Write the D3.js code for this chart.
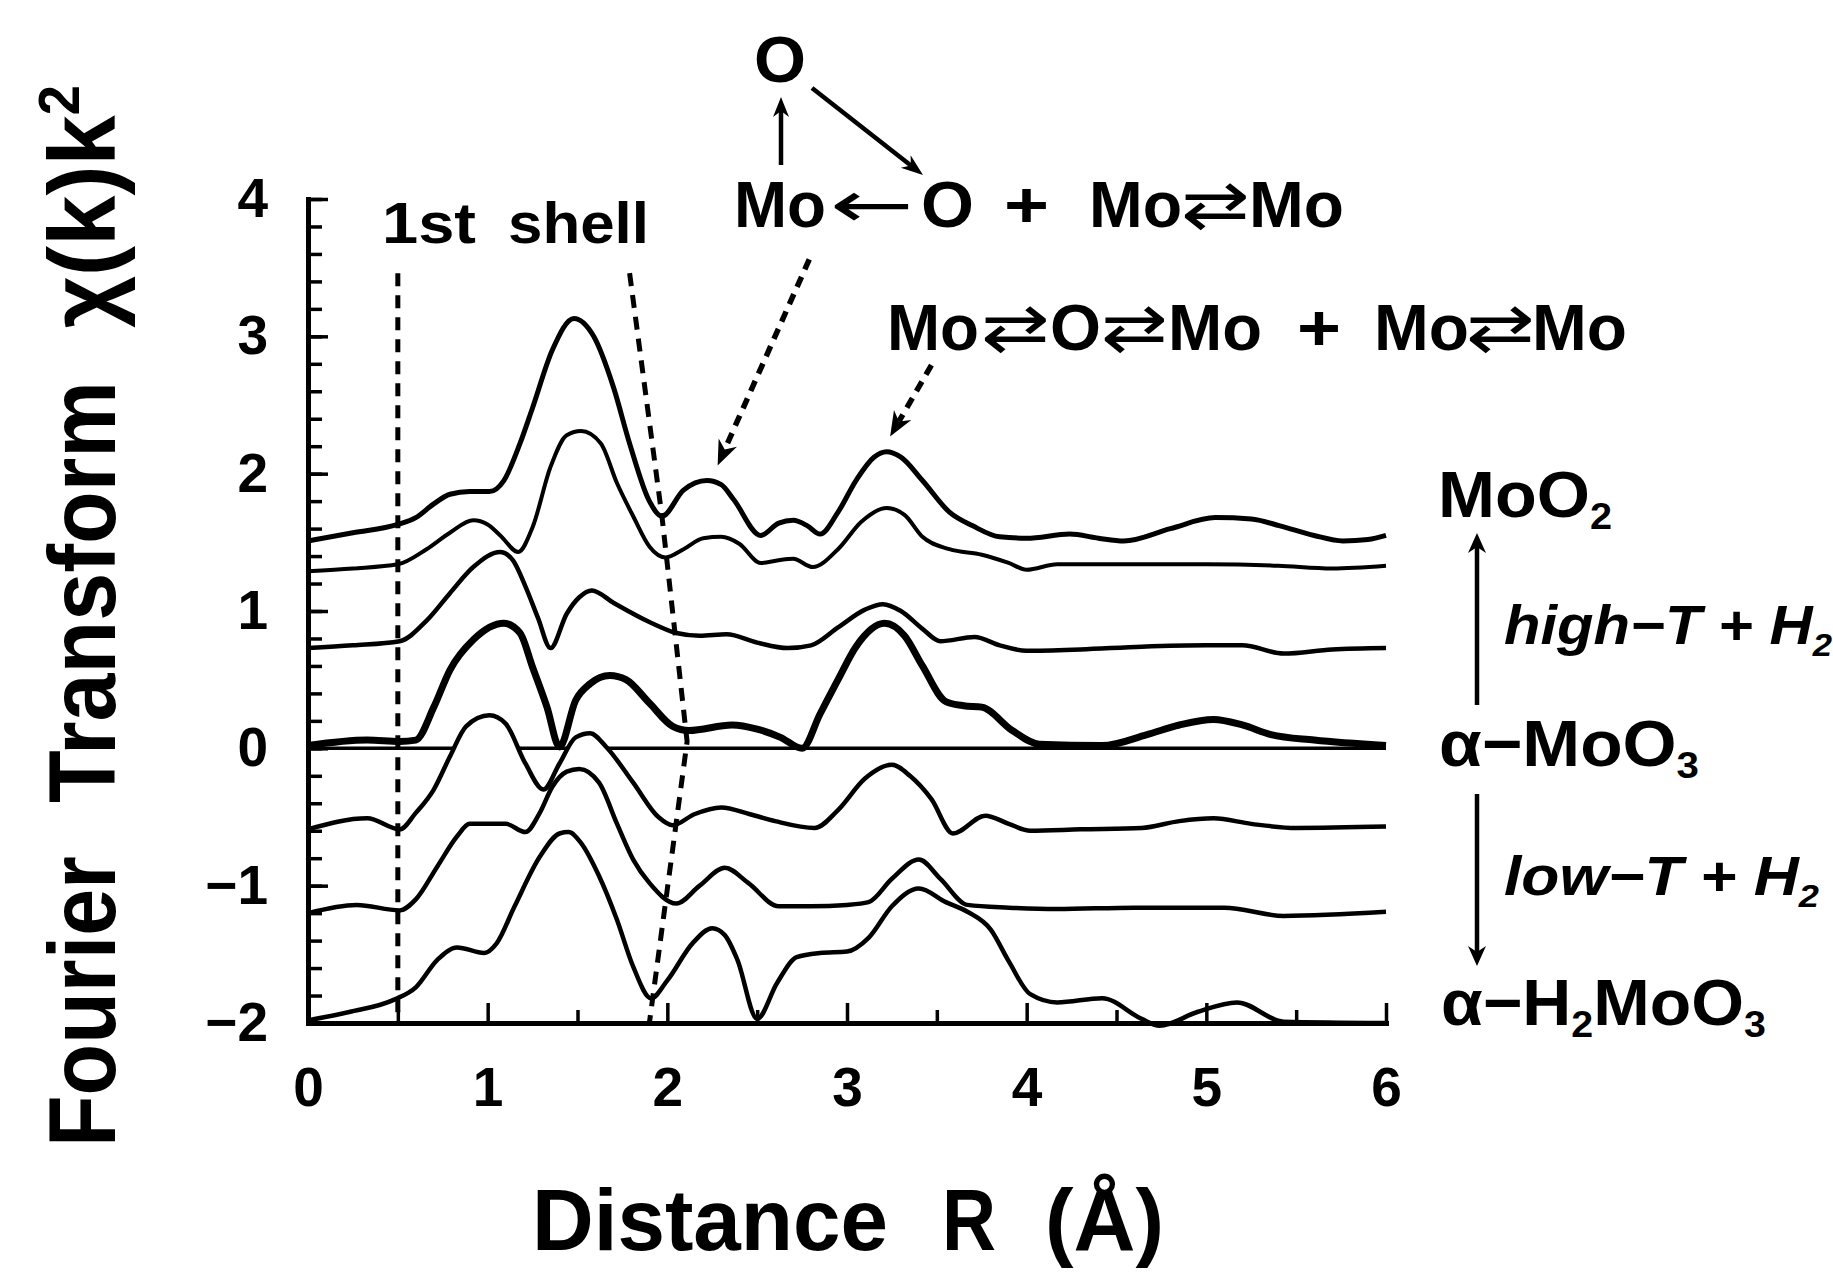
<!DOCTYPE html>
<html>
<head>
<meta charset="utf-8">
<script src="https://cdn.jsdelivr.net/npm/d3@7"></script>
<style>
  body { margin: 0; background: #fff; }
  svg { display: block; }
  text { font-family: "Liberation Sans", Arial, sans-serif; font-weight: bold; fill: #000; }
</style>
</head>
<body>
<svg id="chart"></svg>
<script>
// Fourier transform curves, [R (Å), FT] pairs, top to bottom
const ftMoO2 = [[0,1.51],[0.25,1.57],[0.5,1.63],[0.6,1.68],[0.7,1.78],[0.79,1.85],[0.9,1.87],[1.01,1.87],[1.09,1.95],[1.18,2.22],[1.25,2.48],[1.36,2.9],[1.48,3.13],[1.59,3.0],[1.7,2.63],[1.79,2.22],[1.9,1.8],[1.97,1.69],[2.09,1.88],[2.22,1.95],[2.3,1.92],[2.37,1.81],[2.52,1.55],[2.62,1.64],[2.7,1.66],[2.78,1.62],[2.85,1.56],[2.95,1.72],[3.05,1.95],[3.15,2.12],[3.22,2.16],[3.3,2.12],[3.42,1.95],[3.57,1.72],[3.7,1.62],[3.85,1.54],[4.0,1.53],[4.24,1.56],[4.4,1.53],[4.54,1.51],[4.8,1.6],[5.05,1.68],[5.25,1.67],[5.41,1.62],[5.6,1.55],[5.76,1.51],[5.9,1.52],[6.0,1.55]];
const ftHighT2 = [[0,1.29],[0.25,1.31],[0.5,1.34],[0.66,1.45],[0.79,1.57],[0.92,1.66],[1.0,1.63],[1.07,1.55],[1.17,1.43],[1.25,1.61],[1.35,2.05],[1.44,2.28],[1.52,2.31],[1.63,2.22],[1.72,1.93],[1.81,1.69],[1.9,1.47],[1.99,1.39],[2.09,1.45],[2.2,1.53],[2.3,1.54],[2.4,1.49],[2.52,1.35],[2.62,1.37],[2.7,1.38],[2.81,1.32],[2.95,1.45],[3.08,1.65],[3.22,1.75],[3.32,1.7],[3.42,1.54],[3.57,1.45],[3.75,1.41],[3.9,1.35],[4.0,1.3],[4.17,1.34],[4.5,1.34],[5.0,1.34],[5.4,1.33],[5.7,1.31],[6.0,1.33]];
const ftHighT1 = [[0,0.73],[0.25,0.75],[0.51,0.78],[0.66,0.93],[0.79,1.13],[0.92,1.32],[1.07,1.43],[1.14,1.37],[1.21,1.18],[1.28,0.95],[1.35,0.73],[1.44,0.98],[1.51,1.1],[1.58,1.15],[1.7,1.06],[1.9,0.92],[2.05,0.84],[2.18,0.82],[2.33,0.83],[2.5,0.77],[2.67,0.73],[2.8,0.75],[2.95,0.88],[3.1,1.01],[3.2,1.05],[3.3,1.0],[3.42,0.87],[3.52,0.78],[3.71,0.81],[3.85,0.75],[4.0,0.71],[4.3,0.72],[4.64,0.74],[5.0,0.75],[5.2,0.75],[5.43,0.69],[5.7,0.72],[6.0,0.73]];
const ftMoO3 = [[0,0.02],[0.33,0.06],[0.51,0.05],[0.6,0.06],[0.7,0.3],[0.79,0.57],[0.92,0.79],[1.09,0.91],[1.18,0.84],[1.25,0.59],[1.33,0.3],[1.4,0.01],[1.49,0.35],[1.57,0.47],[1.68,0.53],[1.77,0.5],[1.9,0.33],[2.03,0.16],[2.12,0.13],[2.36,0.17],[2.5,0.14],[2.63,0.08],[2.75,0.0],[2.85,0.25],[2.95,0.5],[3.05,0.74],[3.21,0.91],[3.32,0.82],[3.42,0.6],[3.55,0.34],[3.65,0.31],[3.75,0.3],[3.92,0.13],[4.07,0.03],[4.42,0.02],[4.67,0.1],[4.85,0.17],[5.04,0.21],[5.2,0.17],[5.36,0.1],[5.6,0.06],[6.0,0.02]];
const ftLowT1 = [[0,-0.59],[0.33,-0.51],[0.51,-0.59],[0.6,-0.47],[0.7,-0.3],[0.79,-0.06],[0.88,0.16],[1.01,0.24],[1.1,0.18],[1.21,-0.11],[1.31,-0.3],[1.4,-0.11],[1.49,0.08],[1.57,0.11],[1.66,0.01],[1.81,-0.25],[1.95,-0.5],[2.03,-0.56],[2.15,-0.48],[2.3,-0.43],[2.46,-0.48],[2.6,-0.53],[2.82,-0.58],[2.95,-0.45],[3.1,-0.22],[3.25,-0.12],[3.35,-0.2],[3.47,-0.37],[3.59,-0.62],[3.77,-0.49],[3.9,-0.55],[4.02,-0.6],[4.3,-0.59],[4.64,-0.58],[4.85,-0.53],[5.04,-0.51],[5.25,-0.55],[5.5,-0.58],[6.0,-0.57]];
const ftLowT2 = [[0,-1.2],[0.27,-1.14],[0.51,-1.18],[0.6,-1.1],[0.72,-0.86],[0.83,-0.64],[0.9,-0.55],[1.1,-0.55],[1.21,-0.61],[1.29,-0.47],[1.36,-0.28],[1.44,-0.17],[1.51,-0.15],[1.62,-0.25],[1.72,-0.55],[1.81,-0.81],[1.9,-0.98],[2.05,-1.13],[2.18,-1.0],[2.32,-0.87],[2.45,-0.98],[2.62,-1.15],[2.8,-1.15],[3.0,-1.14],[3.12,-1.12],[3.25,-0.95],[3.4,-0.81],[3.52,-0.95],[3.67,-1.14],[3.9,-1.16],[4.17,-1.17],[4.6,-1.16],[5.1,-1.16],[5.43,-1.22],[6.0,-1.19]];
const ftH2MoO3 = [[0,-1.98],[0.23,-1.92],[0.48,-1.83],[0.6,-1.74],[0.72,-1.54],[0.83,-1.45],[0.98,-1.49],[1.05,-1.42],[1.15,-1.15],[1.29,-0.79],[1.4,-0.62],[1.45,-0.61],[1.52,-0.69],[1.62,-0.93],[1.72,-1.25],[1.81,-1.59],[1.91,-1.82],[2.0,-1.69],[2.14,-1.42],[2.25,-1.31],[2.32,-1.36],[2.39,-1.54],[2.5,-1.97],[2.61,-1.71],[2.72,-1.52],[2.85,-1.49],[3.0,-1.48],[3.12,-1.38],[3.25,-1.15],[3.4,-1.02],[3.55,-1.12],[3.67,-1.19],[3.8,-1.32],[3.9,-1.55],[4.02,-1.79],[4.17,-1.85],[4.42,-1.82],[4.64,-1.97],[4.74,-2.02],[4.95,-1.92],[5.17,-1.85],[5.43,-1.99],[6.0,-2.0]];

// shell guides and peak pointers, in data units
const shellStart = [[0.5, 3.46], [0.5, -2.0]];
const shellEnd = [[1.79, 3.46], [1.97, 1.69], [2.11, 0.05], [1.9, -2.0]];
const pointerMoO = [[2.79, 3.56], [2.28, 2.06]];
const pointerMoOMo = [[3.47, 2.79], [3.24, 2.27]];

const xTicks = [0, 1, 2, 3, 4, 5, 6];
const yTicks = [-2, -1, 0, 1, 2, 3, 4];

const W = 1833, H = 1272;
const x = d3.scaleLinear().domain([0, 6]).range([308, 1386]);
const y = d3.scaleLinear().domain([-2, 4]).range([1023, 199]);

const svg = d3.select("#chart").attr("width", W).attr("height", H);
svg.append("rect").attr("width", W).attr("height", H).attr("fill", "#fff");

const line = d3.line().x(d => x(d[0])).y(d => y(d[1])).curve(d3.curveMonotoneX);

// zero line, hidden where the first low-T curve rises above it
svg.append("clipPath").attr("id", "above-lowT1")
  .append("path")
  .attr("d", d3.area().x(d => x(d[0])).y0(0).y1(d => y(d[1])).curve(d3.curveMonotoneX)(ftLowT1));
svg.append("line")
  .attr("x1", x(0)).attr("x2", x(6)).attr("y1", y(0)).attr("y2", y(0))
  .attr("stroke", "#000").attr("stroke-width", 3.5)
  .attr("clip-path", "url(#above-lowT1)");

// curves
const curves = [
  { data: ftMoO2, w: 5 },
  { data: ftHighT2, w: 4 },
  { data: ftHighT1, w: 4.5 },
  { data: ftMoO3, w: 7 },
  { data: ftLowT1, w: 4.5 },
  { data: ftLowT2, w: 4.5 },
  { data: ftH2MoO3, w: 4.5 }
];
svg.append("g").selectAll("path").data(curves).join("path")
  .attr("d", d => line(d.data))
  .attr("fill", "none").attr("stroke", "#000")
  .attr("stroke-width", d => d.w)
  .attr("stroke-linejoin", "round");

// axes
const axisFont = g => g.attr("font-family", null).attr("font-size", 55);

svg.append("g").attr("transform", `translate(${x(0)},0)`)
  .call(d3.axisLeft(y).tickValues(d3.range(-2, 4.001, 0.2)).tickSize(-14).tickFormat(""))
  .call(g => g.select(".domain").remove());
svg.append("g").attr("transform", `translate(${x(0)},0)`)
  .call(d3.axisLeft(y).tickValues(yTicks).tickSize(-20).tickSizeOuter(0).tickPadding(40).tickFormat(d3.format("d")))
  .call(axisFont);

svg.append("g").attr("transform", `translate(0,${y(-2)})`)
  .call(d3.axisBottom(x).tickValues(d3.range(0.5, 6, 1)).tickSize(-13).tickFormat(""))
  .call(g => g.select(".domain").remove());
svg.append("g").attr("transform", `translate(0,${y(-2)})`)
  .call(d3.axisBottom(x).tickValues(xTicks).tickSize(-20).tickSizeOuter(0).tickPadding(44).tickFormat(d3.format("d")))
  .call(axisFont);

svg.selectAll(".tick line").attr("stroke-width", 3.5);
svg.selectAll(".domain").attr("stroke-width", 5).attr("stroke-linecap", "square");

// dashed guides
const guide = d3.line().x(d => x(d[0])).y(d => y(d[1]));
[shellStart, shellEnd].forEach(pts => {
  svg.append("path").attr("d", guide(pts))
    .attr("fill", "none").attr("stroke", "#000")
    .attr("stroke-width", 5).attr("stroke-dasharray", "13,9");
});

// arrows
const ann = svg.append("g");
function arrow(x1, y1, x2, y2, len, half, w, dash) {
  const dx = x2 - x1, dy = y2 - y1, d = Math.hypot(dx, dy);
  const ux = dx / d, uy = dy / d, px = -uy, py = ux;
  const bx = x2 - ux * len * 0.7, by = y2 - uy * len * 0.7;
  ann.append("line").attr("x1", x1).attr("y1", y1).attr("x2", bx).attr("y2", by)
    .attr("stroke", "#000").attr("stroke-width", w)
    .attr("stroke-dasharray", dash || null);
  const p = [[x2, y2],
    [x2 - ux * len + px * half, y2 - uy * len + py * half],
    [bx, by],
    [x2 - ux * len - px * half, y2 - uy * len - py * half]];
  ann.append("path").attr("d", "M" + p.join("L") + "Z").attr("fill", "#000");
}
[pointerMoO, pointerMoOMo].forEach(([a, b]) =>
  arrow(x(a[0]), y(a[1]), x(b[0]), y(b[1]), 25, 10, 5.5, "11,8"));

arrow(781, 165, 781, 97, 20, 8, 4.5);
arrow(812, 88, 923, 175, 22, 8, 4.5);
arrow(1477, 705, 1477, 533, 20, 9, 4.5);
arrow(1477, 794, 1477, 966, 20, 9, 4.5);

// text helper: x start, baseline, width
function label(px, py, parts, width, size, style) {
  const t = svg.append("text").attr("x", px).attr("y", py)
    .attr("font-size", size)
    .attr("textLength", width).attr("lengthAdjust", "spacingAndGlyphs");
  if (style) t.attr("font-style", style);
  let shift = 0;
  parts.forEach(p => {
    const s = typeof p === "string" ? { t: p } : p;
    const ts = t.append("tspan").text(s.t);
    if (s.font) ts.attr("font-family", s.font).attr("font-weight", "normal");
    if (s.sub) { ts.attr("font-size", size * 0.58).attr("dy", 12 - shift); shift = 12; }
    else if (shift !== 0) { ts.attr("dy", -shift); shift = 0; }
  });
  return t;
}
const arrowFont = "DejaVu Sans";

label(382, 243, ["1st"], 94, 58);
label(508, 243, ["shell"], 141, 58);

label(754, 82, ["O"], 52, 65);
label(734, 227, ["Mo"], 92, 65);
label(830, 227, [{ t: "←", font: arrowFont }], 84, 65);
label(921, 227, ["O"], 53, 65);
label(1004, 227, ["+"], 45, 65);
label(1089, 227, ["Mo"], 93, 65);
label(1181, 227, [{ t: "⇄", font: arrowFont }], 69, 65);
label(1249, 227, ["Mo"], 95, 65);

label(887, 350, ["Mo"], 92, 65);
label(981, 350, [{ t: "⇄", font: arrowFont }], 69, 65);
label(1050, 350, ["O"], 51, 65);
label(1101, 350, [{ t: "⇄", font: arrowFont }], 67, 65);
label(1168, 350, ["Mo"], 94, 65);
label(1297, 350, ["+"], 44, 65);
label(1374, 350, ["Mo"], 95, 65);
label(1466, 350, [{ t: "⇄", font: arrowFont }], 69, 65);
label(1532, 350, ["Mo"], 95, 65);

label(1438, 517, ["MoO", { sub: true, t: "2" }], 174, 65);
label(1504, 644, ["high−T + H", { sub: true, t: "2" }], 328, 55, "italic");
label(1439, 766, ["α−MoO", { sub: true, t: "3" }], 260, 65);
label(1504, 895, ["low−T + H", { sub: true, t: "2" }], 315, 55, "italic");
label(1441, 1025, ["α−H", { sub: true, t: "2" }, "MoO", { sub: true, t: "3" }], 325, 65);

// axis titles
label(532, 1250, ["Distance"], 356, 88);
label(942, 1250, ["R"], 54, 88);
label(1045, 1250, ["(Å)"], 119, 88);

const yTitle = svg.append("g").attr("transform", "translate(115,0) rotate(-90)");
[["Fourier", -1147, 291], ["Transform", -803, 422]].forEach(([s, u, len]) => {
  yTitle.append("text").attr("x", u).attr("y", 0).attr("font-size", 95)
    .attr("textLength", len).attr("lengthAdjust", "spacingAndGlyphs").text(s);
});
const chi = yTitle.append("text").attr("x", -328).attr("y", 0).attr("font-size", 95)
  .attr("textLength", 243).attr("lengthAdjust", "spacingAndGlyphs");
chi.append("tspan").text("χ(k)k");
chi.append("tspan").attr("font-size", 57).attr("dy", -36).text("2");
</script>
</body>
</html>
